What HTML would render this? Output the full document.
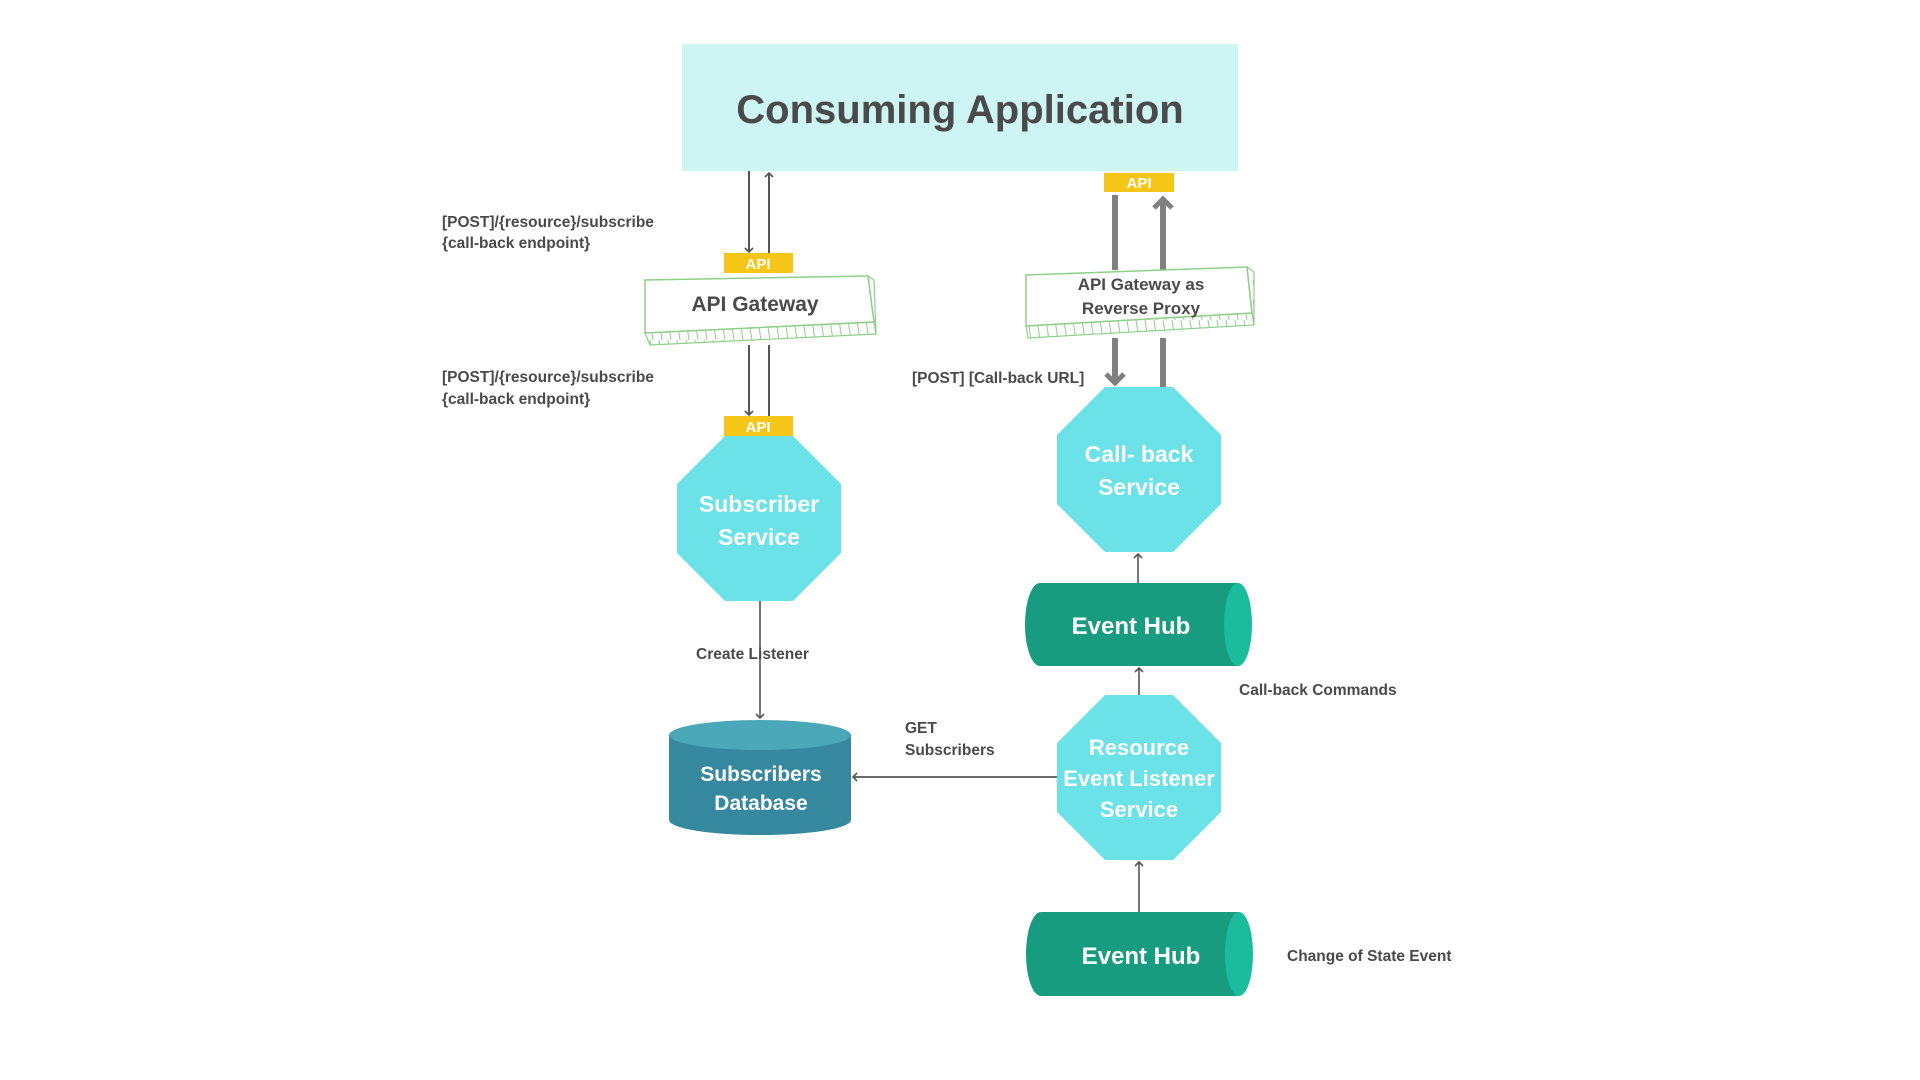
<!DOCTYPE html>
<html><head><meta charset="utf-8"><style>
html,body{margin:0;padding:0;background:#fff;width:1920px;height:1080px;overflow:hidden}
text{font-family:"Liberation Sans",sans-serif;font-weight:bold}
</style></head><body>
<svg width="1920" height="1080" viewBox="0 0 1920 1080" xmlns="http://www.w3.org/2000/svg">
<defs>
<marker id="a" markerWidth="10" markerHeight="10" refX="5" refY="5" orient="auto" markerUnits="userSpaceOnUse"><path d="M1,1 L5,5 L1,9" fill="none" stroke="#555" stroke-width="1.6"/></marker>
<marker id="b" markerWidth="24" markerHeight="24" refX="12" refY="12" orient="auto" markerUnits="userSpaceOnUse"><path d="M3,3 L12,12 L3,21" fill="none" stroke="#808080" stroke-width="5"/></marker>
<pattern id="h" width="9" height="20" patternUnits="userSpaceOnUse"><line x1="2" y1="0" x2="5" y2="20" stroke="#8fcf8a" stroke-width="1"/></pattern>
</defs>
<rect x="682" y="44" width="556" height="127" fill="#ccf5f3"/>
<text x="960" y="123" font-size="40" fill="#4a4a4a" text-anchor="middle">Consuming Application</text>

<line x1="749" y1="171" x2="749" y2="252" stroke="#555" stroke-width="2" marker-end="url(#a)"/>
<line x1="769" y1="253" x2="769" y2="173" stroke="#555" stroke-width="2" marker-end="url(#a)"/>
<rect x="724" y="253" width="69" height="20" fill="#f5c518"/>
<text x="758" y="269" font-size="15" fill="#fff" text-anchor="middle">API</text>

<path d="M645,280 L868,276 L874,322 L645,333 Z" fill="#fff" stroke="#8fcf8a" stroke-width="1.5"/>
<path d="M645,333 L874,322 L876,334 L650,345 Z" fill="url(#h)" stroke="#8fcf8a" stroke-width="1.2"/>
<path d="M868,276 L874,280 L876,334 L874,322 Z" fill="url(#h)" stroke="#8fcf8a" stroke-width="1.2"/>
<text x="755" y="311" font-size="21" fill="#4a4a4a" text-anchor="middle">API Gateway</text>

<text x="442" y="227" font-size="15.5" fill="#4a4a4a">[POST]/{resource}/subscribe</text>
<text x="442" y="248" font-size="15.5" fill="#4a4a4a">{call-back endpoint}</text>
<text x="442" y="382" font-size="15.5" fill="#4a4a4a">[POST]/{resource}/subscribe</text>
<text x="442" y="404" font-size="15.5" fill="#4a4a4a">{call-back endpoint}</text>

<line x1="749" y1="345" x2="749" y2="415" stroke="#555" stroke-width="2" marker-end="url(#a)"/>
<line x1="769" y1="345" x2="769" y2="416" stroke="#555" stroke-width="2"/>
<rect x="724" y="416" width="69" height="20" fill="#f5c518"/>
<text x="758" y="432" font-size="15" fill="#fff" text-anchor="middle">API</text>

<polygon points="725,436 793,436 841,484 841,553 793,601 725,601 677,553 677,484" fill="#6ae2e8"/>
<text x="759" y="512" font-size="23" fill="#fff" text-anchor="middle">Subscriber</text>
<text x="759" y="545" font-size="23" fill="#fff" text-anchor="middle">Service</text>

<line x1="760" y1="601" x2="760" y2="718" stroke="#555" stroke-width="1.6" marker-end="url(#a)"/>
<text x="696" y="659" font-size="15.5" fill="#4a4a4a">Create Listener</text>

<path d="M669,735 L669,820 A91,15 0 0 0 851,820 L851,735 Z" fill="#36889e"/>
<ellipse cx="760" cy="735" rx="91" ry="15" fill="#4aa8b8"/>
<text x="761" y="781" font-size="21" fill="#fff" text-anchor="middle">Subscribers</text>
<text x="761" y="810" font-size="21" fill="#fff" text-anchor="middle">Database</text>

<line x1="1057" y1="777" x2="853" y2="777" stroke="#555" stroke-width="1.8" marker-end="url(#a)"/>
<text x="905" y="733" font-size="15.5" fill="#4a4a4a">GET</text>
<text x="905" y="755" font-size="15.5" fill="#4a4a4a">Subscribers</text>

<rect x="1104" y="173" width="70" height="19" fill="#f5c518"/>
<text x="1139" y="188" font-size="15" fill="#fff" text-anchor="middle">API</text>
<line x1="1115" y1="195" x2="1115" y2="270" stroke="#808080" stroke-width="6"/>
<line x1="1163" y1="270" x2="1163" y2="199" stroke="#808080" stroke-width="6" marker-end="url(#b)"/>

<path d="M1026,275 L1247,267 L1252,313 L1026,326 Z" fill="#fff" stroke="#8fcf8a" stroke-width="1.5"/>
<path d="M1026,326 L1252,313 L1254,325 L1028,338 Z" fill="url(#h)" stroke="#8fcf8a" stroke-width="1.2"/>
<path d="M1247,267 L1254,272 L1254,325 L1252,313 Z" fill="url(#h)" stroke="#8fcf8a" stroke-width="1.2"/>
<text x="1141" y="290" font-size="17" fill="#4a4a4a" text-anchor="middle">API Gateway as</text>
<text x="1141" y="314" font-size="17" fill="#4a4a4a" text-anchor="middle">Reverse Proxy</text>

<line x1="1115" y1="338" x2="1115" y2="383" stroke="#808080" stroke-width="6" marker-end="url(#b)"/>
<line x1="1163" y1="338" x2="1163" y2="387" stroke="#808080" stroke-width="6"/>
<text x="912" y="383" font-size="15.5" fill="#4a4a4a">[POST] [Call-back URL]</text>

<polygon points="1105,387 1173,387 1221,435 1221,504 1173,552 1105,552 1057,504 1057,435" fill="#6ae2e8"/>
<text x="1139" y="462" font-size="23" fill="#fff" text-anchor="middle">Call- back</text>
<text x="1139" y="495" font-size="23" fill="#fff" text-anchor="middle">Service</text>

<line x1="1138" y1="583" x2="1138" y2="554" stroke="#555" stroke-width="1.6" marker-end="url(#a)"/>

<path d="M1040,583 L1238,583 L1238,666 L1040,666 A15,41.5 0 0 1 1040,583 Z" fill="#179c80"/>
<ellipse cx="1238" cy="624.5" rx="14" ry="41.5" fill="#1bbc9b"/>
<text x="1131" y="634" font-size="24" fill="#fff" text-anchor="middle">Event Hub</text>

<line x1="1139" y1="695" x2="1139" y2="668" stroke="#555" stroke-width="1.6" marker-end="url(#a)"/>
<text x="1239" y="695" font-size="15.5" fill="#4a4a4a">Call-back Commands</text>

<polygon points="1105,695 1173,695 1221,743 1221,812 1173,860 1105,860 1057,812 1057,743" fill="#6ae2e8"/>
<text x="1139" y="755" font-size="22" fill="#fff" text-anchor="middle">Resource</text>
<text x="1139" y="786" font-size="22" fill="#fff" text-anchor="middle">Event Listener</text>
<text x="1139" y="817" font-size="22" fill="#fff" text-anchor="middle">Service</text>

<line x1="1139" y1="912" x2="1139" y2="862" stroke="#555" stroke-width="1.6" marker-end="url(#a)"/>

<path d="M1041,912 L1239,912 L1239,996 L1041,996 A15,42 0 0 1 1041,912 Z" fill="#179c80"/>
<ellipse cx="1239" cy="954" rx="14" ry="42" fill="#1bbc9b"/>
<text x="1141" y="964" font-size="24" fill="#fff" text-anchor="middle">Event Hub</text>
<text x="1287" y="961" font-size="15.5" fill="#4a4a4a">Change of State Event</text>
</svg>
</body></html>
